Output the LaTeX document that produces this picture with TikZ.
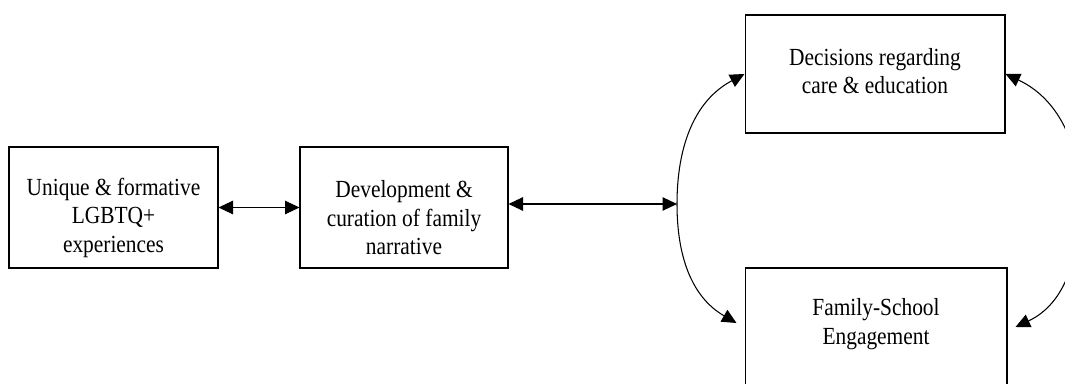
\documentclass[tikz,border=0pt]{standalone}
\usepackage{fontspec}
\setmainfont{Liberation Serif}[FakeStretch=0.87]
\usepackage{tikz}
\usetikzlibrary{arrows.meta}

\begin{document}
\begin{tikzpicture}[x=0.02cm, y=-0.02cm,
  box/.style={draw, line width=0.6pt, align=center, inner sep=0pt, font=\fontsize{14}{16.2}\selectfont},
  link/.style={line width=0.6pt, {Triangle[length=0.29cm,width=0.27cm]}-{Triangle[length=0.29cm,width=0.27cm]}}]
\clip (0,0) rectangle (1065,384);
\useasboundingbox (0,0) rectangle (1065,384);
\node[box, minimum width=4.18cm, minimum height=2.42cm, text height=54pt] (lgbtq) at (113.5,207.5) {Unique \& formative\\LGBTQ+\\experiences};
\node[box, minimum width=4.16cm, minimum height=2.42cm, text height=54pt] (story) at (404,207.5) {Development \&\\curation of family\\narrative};
\node[box, minimum width=5.2cm, minimum height=2.36cm, text height=22.5pt] (care) at (875,74) {Decisions regarding\\care \& education};
\node[box, minimum width=5.24cm, minimum height=2.36cm, text height=22.5pt] (school) at (876,327) {Family-School\\Engagement};
\coordinate (hub) at (677,204);
\coordinate (far) at (1080,200);
\draw[link] (lgbtq) -- (story);
\draw[link] (story.east |- hub) -- (hub);
\draw[link] (care.west) to[out=208, in=90] (hub) to[out=270, in=150] ([xshift=-0.16cm, yshift=0.08cm]school.west);
\draw[link] (care.east) to[out=-25, in=90] (far) to[out=270, in=25] ([xshift=0.16cm]school.east);
\end{tikzpicture}
\end{document}
